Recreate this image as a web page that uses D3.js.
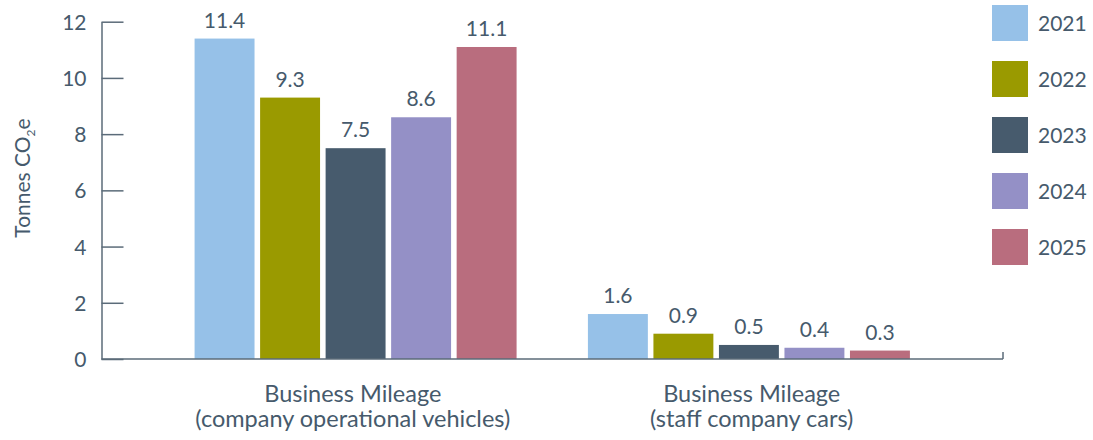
<!DOCTYPE html>
<html>
<head>
<meta charset="utf-8">
<script src="https://cdn.jsdelivr.net/npm/d3@7"></script>
<style>
  html, body { margin: 0; padding: 0; background: #fff; }
  svg { display: block; }
  text { font-family: Lato, "Open Sans", sans-serif; fill: #465a6c; }
</style>
</head>
<body>
<svg id="chart" width="1093" height="440"></svg>
<script>
const categories = [
  ["Business Mileage", "(company operational vehicles)"],
  ["Business Mileage", "(staff company cars)"]
];
const years = ["2021", "2022", "2023", "2024", "2025"];
const values2021 = [11.4, 1.6];
const values2022 = [9.3, 0.9];
const values2023 = [7.5, 0.5];
const values2024 = [8.6, 0.4];
const values2025 = [11.1, 0.3];
const yTicks = [0, 2, 4, 6, 8, 10, 12];
const colors = ["#96c1e8", "#9a9a00", "#475b6d", "#9490c6", "#b96d7e"];
const yTitle = "Tonnes CO";

const seriesValues = [values2021, values2022, values2023, values2024, values2025];
const catKeys = categories.map((c, i) => "c" + i);

const svg = d3.select("#chart");
const pLeft = 101.5, pRight = 1003, pTop = 21.7, pBottom = 359;
const FONT = "Lato, 'Open Sans', sans-serif";

const y = d3.scaleLinear().domain([0, 12]).range([pBottom, pTop]);
const x0 = d3.scaleBand().domain(catKeys).range([pLeft, pRight]).paddingInner(0).paddingOuter(0.146);
const xLabel = d3.scaleBand().domain(catKeys).range([pLeft, pRight]).paddingInner(0).paddingOuter(0.13);
const groupW = 322;
const x1 = d3.scaleBand().domain(years).range([0, groupW]).paddingInner(0.085).paddingOuter(0);
const color = d3.scaleOrdinal().domain(years).range(colors);

const axisColor = "#5b6b79";

// y axis
const yAxis = svg.append("g")
  .attr("transform", `translate(${pLeft},0)`)
  .call(d3.axisLeft(y).tickValues(yTicks).tickSizeInner(-22).tickSizeOuter(0).tickPadding(15).tickFormat(d3.format("d")));
yAxis.selectAll("path, line").attr("stroke", axisColor).attr("stroke-width", 1.5);
yAxis.selectAll("text").style("font-family", FONT).attr("font-size", 21).attr("fill", "#465a6c").attr("dy", "0.36em");

// bars
const data = catKeys.map((k, ci) => ({ key: k, vals: years.map((yr, si) => ({ year: yr, v: seriesValues[si][ci] })) }));
const groups = svg.append("g").selectAll("g").data(data).join("g")
  .attr("transform", d => `translate(${x0(d.key) + x0.bandwidth() / 2 - groupW / 2},0)`);
groups.selectAll("rect").data(d => d.vals).join("rect")
  .attr("x", d => x1(d.year))
  .attr("width", x1.bandwidth())
  .attr("y", d => y(d.v))
  .attr("height", d => y(0) - y(d.v))
  .attr("fill", d => color(d.year));
groups.selectAll("text").data(d => d.vals).join("text")
  .attr("x", d => x1(d.year) + x1.bandwidth() / 2)
  .attr("y", d => y(d.v) - 11)
  .attr("text-anchor", "middle")
  .attr("font-size", 21)
  .text(d => d3.format(".1f")(d.v));

// x axis baseline with right end tick
svg.append("line").attr("x1", pLeft).attr("x2", pRight).attr("y1", y(0)).attr("y2", y(0))
  .attr("stroke", axisColor).attr("stroke-width", 1.5);
svg.append("line").attr("x1", pRight).attr("x2", pRight).attr("y1", y(0)).attr("y2", y(0) - 7)
  .attr("stroke", axisColor).attr("stroke-width", 1.5);

// category labels
const catLabels = svg.append("g").selectAll("text").data(catKeys).join("text")
  .attr("text-anchor", "middle")
  .attr("font-size", 23.5);
catLabels.each(function (k, i) {
  const t = d3.select(this);
  const cx = xLabel(k) + xLabel.bandwidth() / 2;
  categories[i].forEach((line, li) => {
    t.append("tspan").attr("x", cx).attr("y", 401.5 + li * 25.5).text(line);
  });
});

// y title
const yt = svg.append("text")
  .attr("transform", "translate(30,178) rotate(-90)")
  .attr("text-anchor", "middle")
  .attr("font-size", 21);
yt.append("tspan").text(yTitle);
yt.append("tspan").attr("font-size", 12).attr("dy", 5).text("2");
yt.append("tspan").attr("dy", -5).text("e");

// legend
const legend = svg.append("g").selectAll("g").data(years).join("g")
  .attr("transform", (d, i) => `translate(992,${5 + i * 56})`);
legend.append("rect").attr("width", 36).attr("height", 36).attr("fill", d => color(d));
legend.append("text").attr("x", 46).attr("y", 18).attr("dy", "0.36em").attr("font-size", 21).text(d => d);
</script>
</body>
</html>
